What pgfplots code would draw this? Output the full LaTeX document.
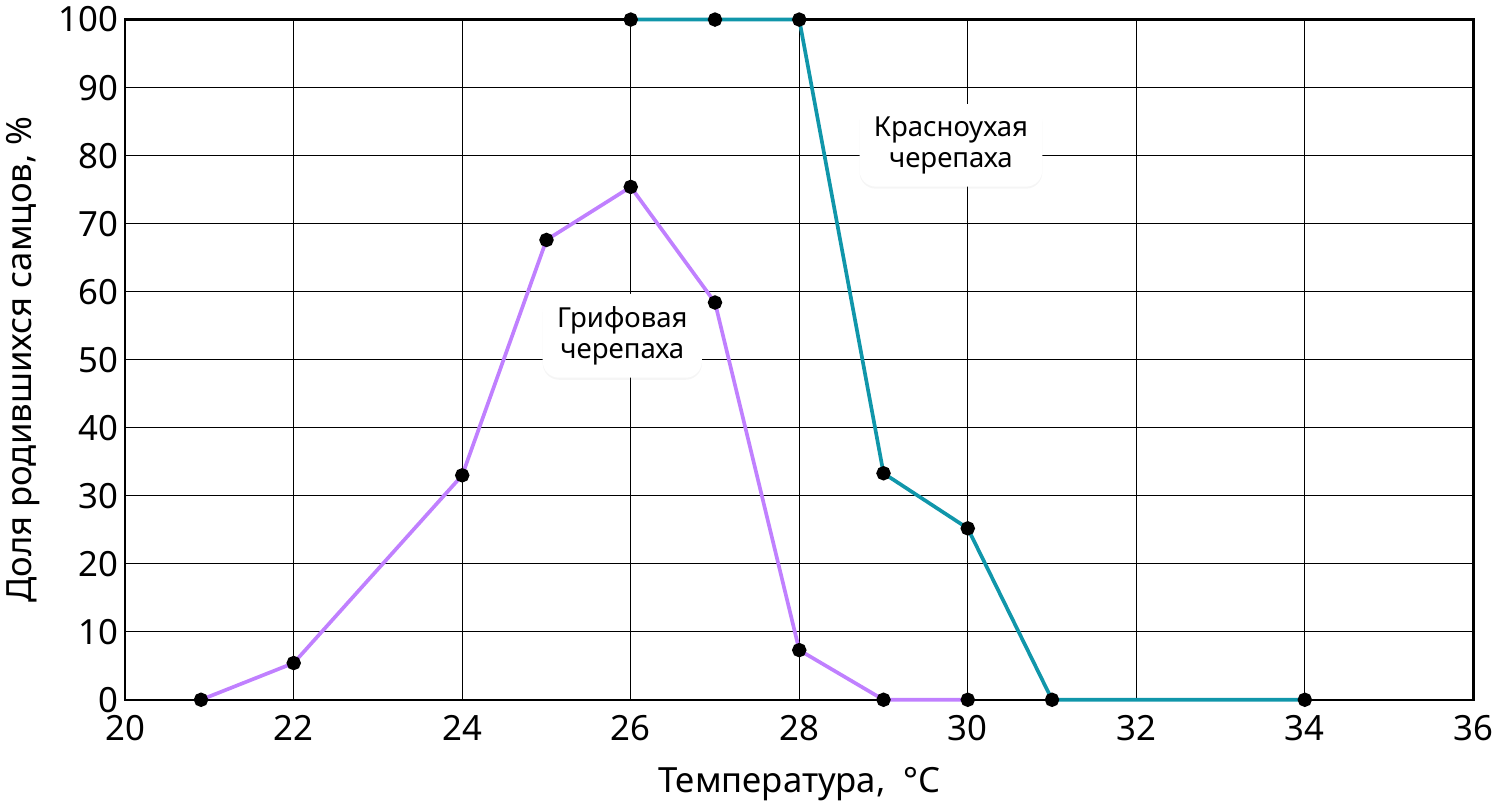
\documentclass[border=0pt]{standalone}
\usepackage{fontspec}
\setmainfont{Noto Sans}
\usepackage{pgfplots}
\pgfplotsset{compat=1.18}
\usetikzlibrary{shadows}
\begin{document}
\begin{tikzpicture}
\begin{axis}[
  scale only axis, width=660pt, height=333pt,
  xmin=20, xmax=36, ymin=0, ymax=100,
  xtick={20,22,...,36}, ytick={0,10,...,100},
  grid=major, grid style={black, line width=0.6pt},
  axis line style={black, line width=1.2pt},
  major tick length=0pt,
  tick label style={font=\fontsize{17}{20}\selectfont},
  xticklabel style={yshift=-4pt},
  /pgf/number format/assume math mode=true,
  xlabel={Температура,\ \ °C}, ylabel={Доля родившихся самцов, \%},
  label style={font=\fontsize{17}{20}\selectfont},
  xlabel style={yshift=-6pt}, ylabel style={yshift=2pt},
  clip=false,
]
\addplot[color={rgb,255:red,192;green,128;blue,255}, line width=1.8pt, mark=*, mark size=2.6pt, mark options={black}]
 coordinates {(20.9,0) (22,5.4) (24,33) (25,67.6) (26,75.4) (27,58.4) (28,7.3) (29,0) (30,0)};
\addplot[color={rgb,255:red,16;green,150;blue,170}, line width=1.8pt, mark=*, mark size=2.6pt, mark options={black}]
 coordinates {(26,100) (27,100) (28,100) (29,33.3) (30,25.2) (31,0) (34,0)};
\node[fill=white, rounded corners=8pt, drop shadow={opacity=0.08, shadow xshift=0pt, shadow yshift=-1pt}, align=center, font=\fontsize{13.5}{15.5}\selectfont, inner xsep=7pt, inner ysep=6pt] at (axis cs:25.9,53.5) {Грифовая\\черепаха};
\node[fill=white, rounded corners=8pt, drop shadow={opacity=0.08, shadow xshift=0pt, shadow yshift=-1pt}, align=center, font=\fontsize{13.5}{15.5}\selectfont, inner xsep=7pt, inner ysep=6pt] at (axis cs:29.8,81.5) {Красноухая\\черепаха};
\end{axis}
\end{tikzpicture}
\end{document}
